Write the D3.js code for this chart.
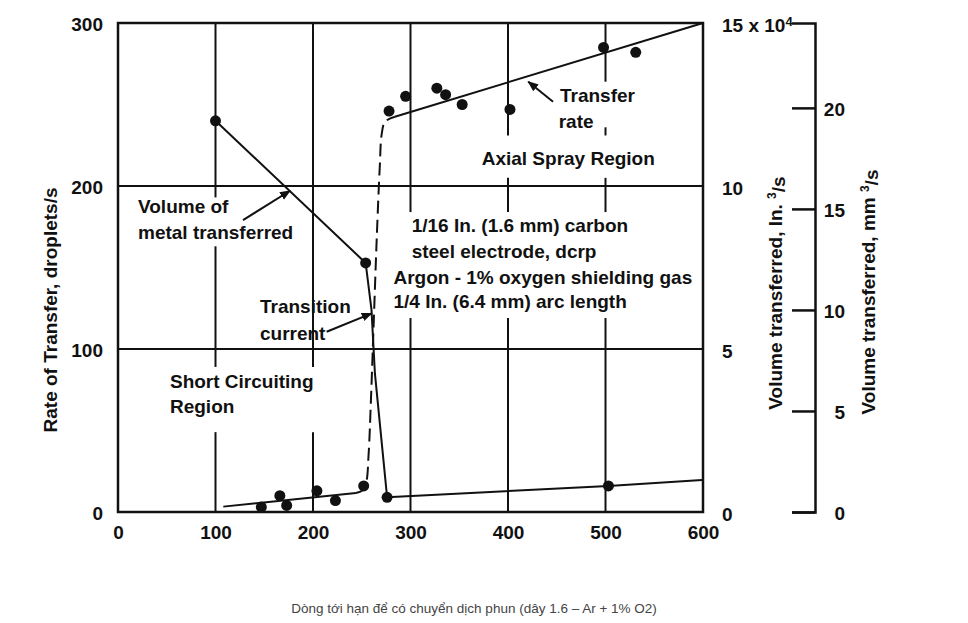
<!DOCTYPE html>
<html>
<head>
<meta charset="utf-8">
<script src="https://cdn.jsdelivr.net/npm/d3@7"></script>
<style>
    body { margin: 0; background: #fff; }
    svg text { font-family: "Liberation Sans", Arial, Helvetica, sans-serif; }
    .lbl { font-size: 19px; font-weight: bold; fill: #111; }
    .caption { font-size: 13.5px; fill: #444; }
</style>
</head>
<body>
<div id="chart"></div>
<script>
// welding current, A (x) vs. rate of transfer, droplets/s
const shortCurrent = [147, 166, 173, 204, 223, 252];
const shortRate = [3, 10, 4, 13, 7, 16];
const sprayCurrent = [278, 295, 327, 336, 353, 402, 498, 531];
const sprayRate = [246, 255, 260, 256, 250, 247, 285, 282];

// volume of metal transferred, x10^4 in.3/s
const volumeCurrent = [100, 254, 276, 503];
const volumeValue = [12.0, 7.64, 0.45, 0.8];
const volumeLineCurrent = [100, 254, 260, 263.5, 276, 503, 599];
const volumeLineValue = [12.0, 7.64, 6.2, 4.25, 0.45, 0.8, 0.98];

// fitted transfer-rate curve (solid / dashed transition / solid)
const shortFitCurrent = [108, 244];
const shortFitRate = [3.3, 11.6];
const transitionCurrent = [244, 250.5, 254.5, 257, 259.5, 262.5, 265.5, 268.5, 270.5, 274, 284];
const transitionRate = [11.6, 13.2, 18, 35, 70, 120, 170, 212, 232, 239.5, 242.5];
const sprayFitCurrent = [284, 600];
const sprayFitRate = [242.5, 300];

// ticks
const xTicks = [0, 100, 200, 300, 400, 500, 600];
const yTicks = [0, 100, 200, 300];
const volTicks = [0, 5, 10, 15];
const mmTicks = [0, 5, 10, 15, 20];
const mmMax = 24.2;
const caption = "Dòng tới hạn để có chuyển dịch phun (dây 1.6 – Ar + 1% O2)";

class TransferChart {
    constructor(_config = {}) {
        this.config = {
            parentElement: _config.parentElement,
            containerWidth: 968,
            containerHeight: 623,
            margin: { top: 23, right: 265, bottom: 111, left: 118 }
        };
        this.initVis();
    }

    initVis() {
        let vis = this;
        let { parentElement, containerWidth, containerHeight, margin } = vis.config;
        vis.left = margin.left;
        vis.right = containerWidth - margin.right;
        vis.top = margin.top;
        vis.bottom = containerHeight - margin.bottom;

        vis.svg = d3.select(parentElement).append("svg")
            .attr("width", containerWidth)
            .attr("height", containerHeight);

        vis.svg.append("defs").append("marker")
            .attr("id", "head")
            .attr("viewBox", "0 -5 10 10")
            .attr("refX", 9).attr("refY", 0)
            .attr("markerUnits", "userSpaceOnUse")
            .attr("markerWidth", 11).attr("markerHeight", 11)
            .attr("orient", "auto")
            .append("path").attr("d", "M0,-4L10,0L0,4Z").attr("fill", "#111");

        vis.x = d3.scaleLinear().domain([0, 600]).range([vis.left, vis.right]);
        vis.y = d3.scaleLinear().domain([0, 300]).range([vis.bottom, vis.top]);
        vis.yVol = d3.scaleLinear().domain([0, 15]).range([vis.bottom, vis.top]);
        vis.yMm = d3.scaleLinear().domain([0, mmMax]).range([vis.bottom, vis.top]);

        vis.renderVis();
    }

    renderVis() {
        let vis = this;
        let { x, y, yVol, yMm } = vis;

        // grid: vertical lines broken where the notes sit
        const gridGaps = {
            100: [[193, 163], [89, 49]],
            200: [[89, 49]],
            300: [[184, 119]],
            400: [[231, 205], [184, 119]],
            500: [[264, 236], [231, 205], [184, 119]]
        };
        const segs = [];
        Object.keys(gridGaps).forEach(k => {
            let top = 300;
            gridGaps[k].forEach(([hi, lo]) => {
                segs.push({ x: +k, y0: top, y1: hi });
                top = lo;
            });
            segs.push({ x: +k, y0: top, y1: 0 });
        });

        const grid = vis.svg.append("g").attr("stroke", "#111").attr("stroke-width", 2);
        grid.selectAll(".vgrid").data(segs).join("line")
            .attr("x1", d => x(d.x)).attr("x2", d => x(d.x))
            .attr("y1", d => y(d.y0)).attr("y2", d => y(d.y1));
        grid.selectAll(".hgrid").data([100, 200]).join("line")
            .attr("x1", vis.left).attr("x2", vis.right)
            .attr("y1", d => y(d)).attr("y2", d => y(d));

        vis.svg.append("rect")
            .attr("x", vis.left).attr("y", vis.top)
            .attr("width", vis.right - vis.left).attr("height", vis.bottom - vis.top)
            .attr("fill", "none").attr("stroke", "#111").attr("stroke-width", 2.5);

        // axes
        vis.svg.append("g")
            .attr("transform", `translate(${vis.left},0)`)
            .call(d3.axisLeft(y).tickValues(yTicks).tickSize(0).tickPadding(15))
            .call(g => g.select(".domain").remove())
            .selectAll("text").attr("class", "lbl").attr("dy", "0.4em");

        vis.svg.append("g")
            .attr("transform", `translate(0,${vis.bottom})`)
            .call(d3.axisBottom(x).tickValues(xTicks).tickSize(0).tickPadding(14))
            .call(g => g.select(".domain").remove())
            .selectAll("text").attr("class", "lbl");

        const volAxis = vis.svg.append("g")
            .attr("transform", `translate(${vis.right},0)`)
            .call(d3.axisRight(yVol).tickValues(volTicks).tickSize(0).tickPadding(19))
            .call(g => g.select(".domain").remove());
        volAxis.selectAll("text").attr("class", "lbl").attr("dy", "0.45em")
            .each(function (d) {
                if (d !== 15) return;
                const t = d3.select(this).text("15 x 10");
                t.append("tspan").attr("dy", "-0.5em").style("font-size", "13px").text("4");
            });

        const mmAxis = vis.svg.append("g")
            .attr("transform", `translate(${vis.right + 112},0)`)
            .call(d3.axisLeft(yMm).tickValues(mmTicks).tickSize(23).tickPadding(0));
        mmAxis.selectAll("path, line").attr("stroke", "#111").attr("stroke-width", 2.5);
        mmAxis.selectAll("text").attr("class", "lbl")
            .attr("x", 30).attr("text-anchor", "end").attr("dy", "0.4em");

        // axis titles
        const title = (cx, cy, main, sup, tail) => {
            const t = vis.svg.append("text").attr("class", "lbl")
                .attr("text-anchor", "middle")
                .attr("transform", `translate(${cx},${cy}) rotate(-90)`)
                .attr("dy", "0.35em").text(main);
            if (sup) {
                t.append("tspan").attr("dy", "-0.5em").style("font-size", "12px").text(sup);
                t.append("tspan").attr("dy", "0.5em").text(tail);
            }
        };
        title(50, 310, "Rate of Transfer, droplets/s");
        title(775, 293, "Volume transferred, In. ", "3", "/s");
        title(868, 292, "Volume transferred, mm ", "3", "/s");

        // notes
        const notes = [
            { t: "Volume of", c: 20.5, r: 183.4 },
            { t: "metal transferred", c: 20.5, r: 167.5 },
            { t: "Transition", c: 145.6, r: 122 },
            { t: "current", c: 145.6, r: 105.5 },
            { t: "Short Circuiting", c: 53.3, r: 75.9 },
            { t: "Region", c: 53.3, r: 61 },
            { t: "Transfer", c: 453.3, r: 251.7 },
            { t: "rate", c: 452, r: 235.4 },
            { t: "Axial Spray Region", c: 373, r: 212.9 },
            { t: "1/16 In. (1.6 mm) carbon", c: 301.2, r: 171.8 },
            { t: "steel electrode, dcrp", c: 301.2, r: 155.8 },
            { t: "Argon - 1% oxygen shielding gas", c: 282.5, r: 139.9 },
            { t: "1/4 In. (6.4 mm) arc length", c: 282.5, r: 125.2 }
        ];
        vis.svg.append("g").selectAll("text").data(notes).join("text")
            .attr("class", "lbl")
            .attr("x", d => x(d.c)).attr("y", d => y(d.r))
            .text(d => d.t);

        // lines
        const line = d3.line().x(d => x(d[0])).y(d => y(d[1]));
        const lineVol = d3.line().x(d => x(d[0])).y(d => yVol(d[1]));
        const lines = vis.svg.append("g").attr("fill", "none").attr("stroke", "#111")
            .attr("stroke-width", 2).attr("stroke-linejoin", "round");

        lines.append("path").attr("d", line(d3.zip(shortFitCurrent, shortFitRate)));
        lines.append("path").attr("d", line(d3.zip(sprayFitCurrent, sprayFitRate)));
        lines.append("path")
            .attr("d", line.curve(d3.curveCatmullRom)(d3.zip(transitionCurrent, transitionRate)))
            .attr("stroke-dasharray", "13,6");
        lines.append("path").attr("d", lineVol(d3.zip(volumeLineCurrent, volumeLineValue)));

        // arrows
        const arrows = [
            { from: [128.2, 179.1], to: [176.4, 197.1] },
            { from: [214, 110.6], to: [260.2, 121.9] },
            { from: [446.2, 251.7], to: [420.8, 264] }
        ];
        lines.selectAll(".arrow").data(arrows).join("line")
            .attr("x1", d => x(d.from[0])).attr("y1", d => y(d.from[1]))
            .attr("x2", d => x(d.to[0])).attr("y2", d => y(d.to[1]))
            .attr("marker-end", "url(#head)");

        // points
        const dots = vis.svg.append("g").attr("fill", "#111");
        dots.selectAll(".rate").data(d3.zip(shortCurrent.concat(sprayCurrent), shortRate.concat(sprayRate)))
            .join("circle")
            .attr("cx", d => x(d[0])).attr("cy", d => y(d[1])).attr("r", 5.5);
        dots.selectAll(".vol").data(d3.zip(volumeCurrent, volumeValue))
            .join("circle")
            .attr("cx", d => x(d[0])).attr("cy", d => yVol(d[1])).attr("r", 5.5);

        vis.svg.append("text").attr("class", "caption")
            .attr("x", 474).attr("y", 613).attr("text-anchor", "middle")
            .text(caption);
    }
}

new TransferChart({ parentElement: "#chart" });
</script>
</body>
</html>
